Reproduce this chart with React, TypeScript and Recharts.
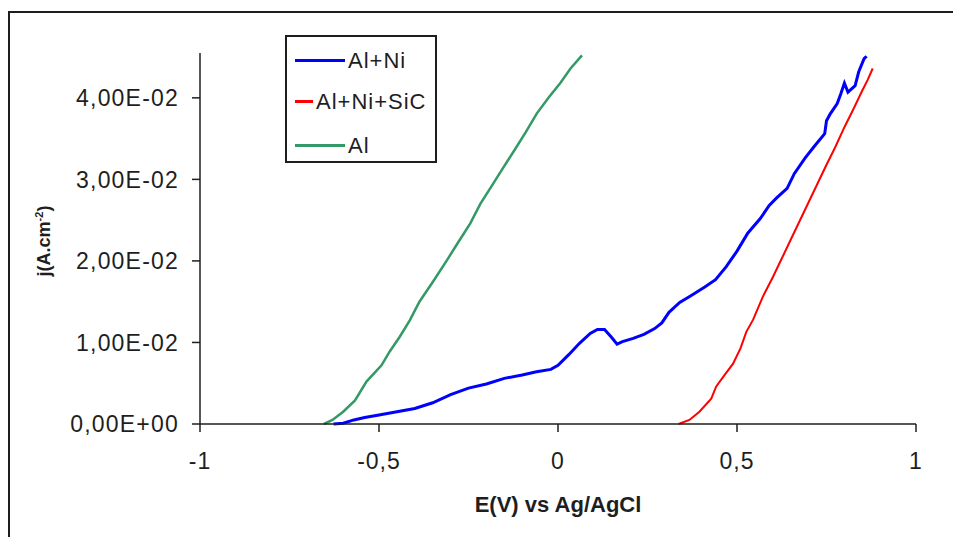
import { CartesianGrid, Label, Line, LineChart, XAxis, YAxis } from "recharts";

// Al+Ni (blue)
const alNiE = [
  -0.627, -0.6, -0.57, -0.54, -0.5, -0.45, -0.4, -0.35, -0.3, -0.25, -0.2,
  -0.15, -0.1, -0.06, -0.02, 0.0, 0.03, 0.06, 0.09, 0.11, 0.13, 0.15, 0.165,
  0.18, 0.21, 0.24, 0.27, 0.29, 0.31, 0.34, 0.37, 0.41, 0.44, 0.47, 0.5, 0.53,
  0.565, 0.59, 0.61, 0.64, 0.66, 0.69, 0.715, 0.745, 0.75, 0.76, 0.78, 0.79,
  0.8, 0.81, 0.83, 0.84, 0.855, 0.862,
];
const alNiJ = [
  0, 0.0001, 0.0005, 0.0008, 0.0011, 0.0015, 0.0019, 0.0026, 0.0036, 0.0044,
  0.0049, 0.0056, 0.006, 0.0064, 0.0067, 0.0072, 0.0085, 0.0099, 0.0111,
  0.0116, 0.0116, 0.0106, 0.0098, 0.0101, 0.0105, 0.011, 0.0117, 0.0124,
  0.0137, 0.0149, 0.0157, 0.0168, 0.0177, 0.0193, 0.0212, 0.0234, 0.0252,
  0.0268, 0.0277, 0.0289, 0.0307, 0.0326, 0.034, 0.0356, 0.0372, 0.038,
  0.0393, 0.0405, 0.0418, 0.0407, 0.0415, 0.0432, 0.0448, 0.0451,
];

// Al+Ni+SiC (red)
const alNiSicE = [
  0.337, 0.367, 0.395, 0.428, 0.442, 0.465, 0.489, 0.51, 0.526, 0.545, 0.572,
  0.6, 0.624, 0.65, 0.7, 0.725, 0.75, 0.775, 0.8, 0.825, 0.85, 0.865, 0.879,
];
const alNiSicJ = [
  0, 0.0005, 0.0015, 0.0031, 0.0046, 0.006, 0.0074, 0.0093, 0.0113, 0.0128,
  0.0156, 0.018, 0.0202, 0.0226, 0.0272, 0.0295, 0.0318, 0.034, 0.0364,
  0.0386, 0.0409, 0.0422, 0.0436,
];

// Al (green)
const alE = [
  -0.654, -0.63, -0.6, -0.567, -0.535, -0.493, -0.47, -0.442, -0.414, -0.387,
  -0.347, -0.31, -0.28, -0.245, -0.217, -0.185, -0.152, -0.12, -0.09, -0.059,
  -0.025, 0.006, 0.035, 0.067,
];
const alJ = [
  0, 0.0005, 0.0015, 0.0029, 0.0052, 0.0072, 0.0089, 0.0107, 0.0127, 0.015,
  0.0176, 0.0201, 0.0222, 0.0246, 0.027, 0.0292, 0.0315, 0.0337, 0.0358,
  0.0381, 0.0401, 0.0418, 0.0436, 0.0452,
];

const xTicks = [-1, -0.5, 0, 0.5, 1];
const yTicks = [0, 0.01, 0.02, 0.03, 0.04];

const toPoints = (es: number[], js: number[]) =>
  es.map((e, i) => ({ e, j: js[i] }));

const series = [
  { name: "Al+Ni", color: "#0000ff", width: 3, data: toPoints(alNiE, alNiJ), legendLen: 50 },
  { name: "Al+Ni+SiC", color: "#ff0000", width: 2, data: toPoints(alNiSicE, alNiSicJ), legendLen: 18 },
  { name: "Al", color: "#339966", width: 2.5, data: toPoints(alE, alJ), legendLen: 50 },
];

const FONT = "'Liberation Sans', Arial, sans-serif";
const INK = "#1e1e1e";

function sci(v: number) {
  if (v === 0) return "0,00E+00";
  const exp = Math.floor(Math.log10(Math.abs(v)) + 1e-9);
  const mant = (v / Math.pow(10, exp)).toFixed(2).replace(".", ",");
  const sign = exp < 0 ? "-" : "+";
  return `${mant}E${sign}${String(Math.abs(exp)).padStart(2, "0")}`;
}

function ChartLegend() {
  const rows = [24, 65, 109];
  return (
    <div
      style={{
        position: "absolute",
        left: 285,
        top: 35,
        width: 148,
        height: 124,
        border: `2px solid ${INK}`,
        background: "#fff",
        fontFamily: FONT,
      }}
    >
      {series.map((s, i) => (
        <div key={s.name}>
          <div
            style={{
              position: "absolute",
              left: 8,
              top: rows[i] - 2,
              width: s.legendLen,
              height: 3,
              background: s.color,
            }}
          />
          <div
            style={{
              position: "absolute",
              left: 8 + s.legendLen + 3,
              top: rows[i] - 13,
              fontSize: 22,
              lineHeight: "26px",
              letterSpacing: 1,
              color: INK,
              whiteSpace: "nowrap",
            }}
          >
            {s.name}
          </div>
        </div>
      ))}
    </div>
  );
}

export default function App() {
  return (
    <div
      style={{
        position: "fixed",
        left: 0,
        top: 0,
        width: 953,
        height: 537,
        overflow: "hidden",
        background: "#fff",
      }}
    >
      <div
        style={{
          position: "absolute",
          left: 8,
          top: 11,
          width: 980,
          height: 560,
          borderTop: `2px solid ${INK}`,
          borderLeft: `2px solid ${INK}`,
        }}
      />
      <div style={{ position: "absolute", left: 0, top: 0 }}>
        <LineChart
          width={953}
          height={537}
          margin={{ top: 53, right: 37, bottom: 73, left: 0 }}
        >
          <CartesianGrid stroke="none" />
          <XAxis
            dataKey="e"
            type="number"
            domain={[-1, 1]}
            ticks={xTicks}
            allowDuplicatedCategory={false}
            tickFormatter={(v) => String(v).replace(".", ",")}
            tick={{ fontSize: 23, fill: INK, fontFamily: FONT, letterSpacing: 1 }}
            tickSize={8}
            tickMargin={21}
            stroke={INK}
            strokeWidth={1.5}
            height={40}
          >
            <Label
              value="E(V) vs Ag/AgCl"
              position="bottom"
              offset={32}
              style={{ fontSize: 22, fontWeight: "bold", fill: INK, fontFamily: FONT }}
            />
          </XAxis>
          <YAxis
            dataKey="j"
            type="number"
            domain={[0, 0.0455]}
            ticks={yTicks}
            tickFormatter={sci}
            tick={{ fontSize: 23, fill: INK, fontFamily: FONT, letterSpacing: 1.2 }}
            tickSize={8}
            tickMargin={13}
            stroke={INK}
            strokeWidth={1.5}
            width={200}
          >
            <Label
              content={() => (
                <text
                  x={44}
                  y={241}
                  transform="rotate(-90 44 241)"
                  textAnchor="middle"
                  dy="0.35em"
                  fontSize={18}
                  fontWeight="bold"
                  fontFamily={FONT}
                  fill={INK}
                >
                  j(A.cm
                  <tspan fontSize={11} dy={-7}>
                    -2
                  </tspan>
                  <tspan dy={7}>)</tspan>
                </text>
              )}
            />
          </YAxis>
          {series.map((s) => (
            <Line
              key={s.name}
              data={s.data}
              dataKey="j"
              name={s.name}
              type="linear"
              stroke={s.color}
              strokeWidth={s.width}
              dot={false}
              activeDot={false}
              isAnimationActive={false}
            />
          ))}
        </LineChart>
      </div>
      <ChartLegend />
    </div>
  );
}
